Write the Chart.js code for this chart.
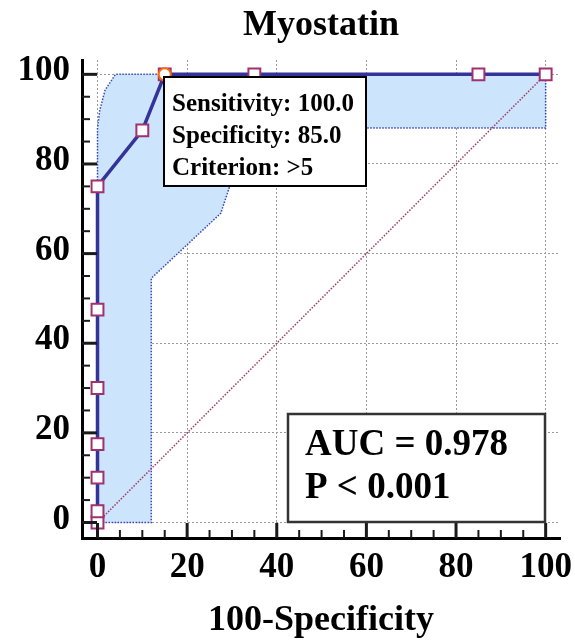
<!DOCTYPE html>
<html><head><meta charset="utf-8">
<script src="https://cdn.jsdelivr.net/npm/chart.js@4.4.1/dist/chart.umd.min.js"></script>
<style>html,body{margin:0;padding:0;background:#fff}canvas{display:block}</style>
</head><body>
<canvas id="c" width="575" height="641"></canvas>
<script>
// ---- data ----
const rocFpr = [0, 0, 0, 0, 0, 0, 0, 10, 15, 35, 85, 100];
const rocTpr = [0, 2.5, 10, 17.5, 30, 47.5, 75, 87.5, 100, 100, 100, 100];
const ciUpperFpr = [0, 0, 0.5, 1.7, 4, 100];
const ciUpperTpr = [0, 88, 92, 96.5, 100, 100];
const ciLowerFpr = [0, 12, 12, 27.5, 28.5, 29.5, 30.5, 31, 100, 100];
const ciLowerTpr = [0, 0, 54.5, 69, 72, 75, 80, 88, 88, 100];
const diagFpr = [0, 100];
const diagTpr = [0, 100];
const cutFpr = [15];
const cutTpr = [100];
const majorTicks = [0, 20, 40, 60, 80, 100];
const minorTicks = [5, 10, 15, 25, 30, 35, 45, 50, 55, 65, 70, 75, 85, 90, 95];
const chartTitle = 'Myostatin';
const xAxisTitle = '100-Specificity';
const infoLines = ['Sensitivity: 100.0', 'Specificity: 85.0', 'Criterion: >5'];
const statLines = ['AUC = 0.978', 'P < 0.001'];

// ---- build ----
const pts = (xs, ys) => xs.map((x, i) => ({x, y: ys[i]}));
const bandPoly = pts(ciUpperFpr, ciUpperTpr).concat(pts(ciLowerFpr, ciLowerTpr).reverse());
const FONT = "'Liberation Serif', 'Times New Roman', serif";

const decorPlugin = {
  id: 'decor',
  afterDraw(chart) {
    const ctx = chart.ctx;
    const xs = chart.scales.x, ys = chart.scales.y;
    const ca = chart.chartArea;
    ctx.save();
    // inner tick marks
    ctx.strokeStyle = '#1a1a1a';
    const all = majorTicks.map(v => [v, true]).concat(minorTicks.map(v => [v, false]));
    for (const [v, major] of all) {
      const len = major ? 15 : 8;
      ctx.lineWidth = major ? 3 : 2;
      const py = ys.getPixelForValue(v);
      ctx.beginPath(); ctx.moveTo(ca.left, py); ctx.lineTo(ca.left + len, py); ctx.stroke();
      const px = xs.getPixelForValue(v);
      ctx.beginPath(); ctx.moveTo(px, ca.bottom); ctx.lineTo(px, ca.bottom - len); ctx.stroke();
    }
    // title
    ctx.fillStyle = '#000';
    ctx.font = 'bold 36px ' + FONT;
    ctx.textAlign = 'center';
    ctx.textBaseline = 'alphabetic';
    ctx.fillText(chartTitle, (ca.left + ca.right) / 2, 35);
    // info box
    ctx.fillStyle = '#fff';
    ctx.fillRect(164, 77, 202, 109);
    ctx.strokeStyle = '#000';
    ctx.lineWidth = 2;
    ctx.strokeRect(164, 77, 202, 109);
    ctx.fillStyle = '#000';
    ctx.font = 'bold 25px ' + FONT;
    ctx.textAlign = 'left';
    const ib = [111, 143, 175];
    infoLines.forEach((t, i) => ctx.fillText(t, 172, ib[i]));
    // stat box
    ctx.fillStyle = '#fff';
    ctx.fillRect(288, 414, 257, 108);
    ctx.strokeStyle = '#333';
    ctx.lineWidth = 2.5;
    ctx.strokeRect(288, 414, 257, 108);
    ctx.fillStyle = '#000';
    ctx.font = 'bold 37px ' + FONT;
    const sb = [455, 498];
    statLines.forEach((t, i) => ctx.fillText(t, 305, sb[i]));
    ctx.restore();
  }
};

const tickFont = {family: FONT, size: 35, weight: 'bold'};

new Chart(document.getElementById('c'), {
  type: 'line',
  data: {
    datasets: [
      {
        data: pts(cutFpr, cutTpr), showLine: false, order: 0,
        pointStyle: 'circle', pointRadius: 6, pointBorderWidth: 2,
        pointBorderColor: '#ff6a00', pointBackgroundColor: '#ffffff'
      },
      {
        data: pts(rocFpr, rocTpr), order: 1,
        borderColor: '#333399', borderWidth: 3.5, tension: 0, fill: false,
        pointStyle: 'rect', pointRadius: 8.4, pointBorderWidth: 2,
        pointBorderColor: '#a0306e', pointBackgroundColor: '#ffffff'
      },
      {
        data: pts(diagFpr, diagTpr), order: 2,
        borderColor: '#a03a66', borderWidth: 1.5, borderDash: [1.5, 1.5],
        pointRadius: 0, fill: false, tension: 0
      },
      {
        data: bandPoly, order: 3,
        borderColor: '#3a46b8', borderWidth: 1.5, borderDash: [1.5, 1.5],
        backgroundColor: '#cce4fc', fill: 'shape',
        pointRadius: 0, tension: 0
      }
    ]
  },
  options: {
    responsive: false,
    animation: false,
    devicePixelRatio: 1,
    events: [],
    layout: {padding: {top: 60, right: 15, left: 0, bottom: 0}},
    plugins: {legend: {display: false}, tooltip: {enabled: false}, title: {display: false}},
    scales: {
      x: {
        type: 'linear', min: -3.46, max: 103.2,
        afterBuildTicks: s => { s.ticks = majorTicks.map(v => ({value: v})); },
        afterFit: s => { s.height = 103; s.paddingLeft = 0; s.paddingRight = 0; },
        grid: {color: '#9a9a9a', lineWidth: 1, drawTicks: false},
        border: {display: true, color: '#000', width: 3, dash: [2, 2]},
        ticks: {color: '#000', font: tickFont, padding: 8.5, maxRotation: 0, autoSkip: false},
        title: {display: true, text: xAxisTitle, color: '#000',
                font: {family: FONT, size: 36, weight: 'bold', lineHeight: 1.15},
                padding: {top: 0, bottom: 0}}
      },
      y: {
        type: 'linear', min: -3.46, max: 103.2,
        afterBuildTicks: s => { s.ticks = majorTicks.map(v => ({value: v})); },
        afterFit: s => { s.width = 82; s.paddingTop = 0; s.paddingBottom = 0; },
        grid: {color: '#9a9a9a', lineWidth: 1, drawTicks: false},
        border: {display: true, color: '#000', width: 3, dash: [2, 2]},
        ticks: {color: '#000', font: tickFont, padding: 12, labelOffset: -3, autoSkip: false}
      }
    }
  },
  plugins: [decorPlugin]
});
</script>
</body></html>
